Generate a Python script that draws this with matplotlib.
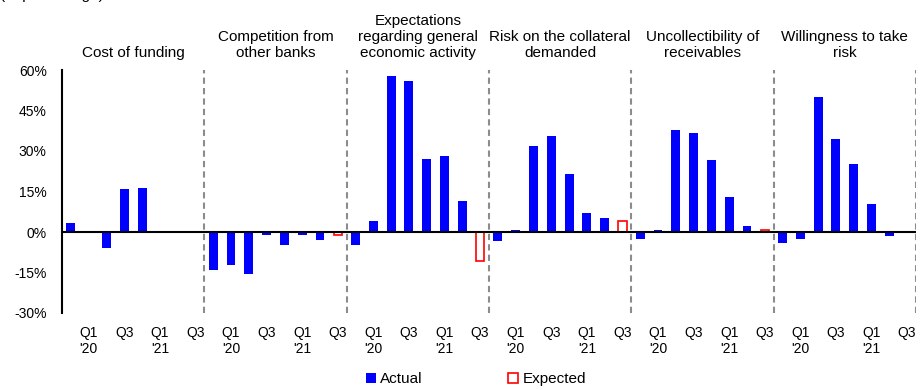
import matplotlib
matplotlib.use("Agg")
import matplotlib.pyplot as plt
import numpy as np
from matplotlib.patches import Patch
from matplotlib.transforms import blended_transform_factory

plt.rcParams["font.family"] = ["Liberation Sans", "DejaVu Sans"]
plt.rcParams["font.size"] = 10

nan = np.nan

# Factors behind credit standards (one panel each)
factors = [
    "Cost of funding",
    "Competition from\nother banks",
    "Expectations\nregarding general\neconomic activity",
    "Risk on the collateral\ndemanded",
    "Uncollectibility of\nreceivables",
    "Willingness to take\nrisk",
]

# Quarter slots per panel: Q4'19 .. Q2'21 actual, Q3'21 expected
quarter_ticks = ["", "Q1\n'20", "", "Q3", "", "Q1\n'21", "", "Q3"]

# Actual net percentages, Q4'19 .. Q2'21
actual_cost_of_funding = [3.3, nan, -5.9, 15.8, 16.4, nan, nan]
actual_competition = [-14.0, -12.3, -15.4, -1.0, -4.7, -1.0, -2.8]
actual_expectations = [-4.7, 4.0, 57.8, 56.0, 27.0, 28.0, 11.6]
actual_collateral = [-3.4, 0.9, 31.7, 35.4, 21.5, 7.2, 5.3]
actual_receivables = [-2.7, 0.9, 37.7, 36.6, 26.5, 12.8, 2.2]
actual_risk_taking = [-4.0, -2.7, 50.1, 34.6, 25.3, 10.3, -1.5]

# Expected net percentages, Q3'21
expected_q3_21 = [nan, -1.0, -10.8, 4.1, 0.9, nan]

actual_series = [
    actual_cost_of_funding,
    actual_competition,
    actual_expectations,
    actual_collateral,
    actual_receivables,
    actual_risk_taking,
]

W, H = 921, 390
fig = plt.figure(figsize=(W / 100, H / 100), dpi=100)
ax = fig.add_axes([62 / W, 1 - 313 / H, (916 - 62) / W, (313 - 70) / H])

slots = len(quarter_ticks)
bar_w = 0.5
blue = "#0000FF"
red = "#FF0000"

tick_pos, tick_lab = [], []
for g, (name, vals) in enumerate(zip(factors, actual_series)):
    base = g * slots
    x = base + np.arange(len(vals))
    ax.bar(x, vals, width=bar_w, color=blue, edgecolor="none", zorder=2)
    ax.bar(base + slots - 1, expected_q3_21[g], width=bar_w * 0.95,
           facecolor="white", edgecolor=red, linewidth=1.2, zorder=2)
    for i, lab in enumerate(quarter_ticks):
        if lab:
            tick_pos.append(base + i)
            tick_lab.append(lab)
    # panel separators
    ax.axvline(base + slots - 0.5, color="#8c8c8c", linewidth=1.5,
               linestyle=(0, (3, 2)), zorder=1)

trans = blended_transform_factory(ax.transData, ax.transAxes)
for g, name in enumerate(factors):
    ax.annotate(name, xy=(g * slots + (slots - 1) / 2, 1.0), xycoords=trans,
                xytext=(0, 7.5), textcoords="offset points",
                ha="center", va="bottom", fontsize=11, linespacing=1.15)

ax.axhline(0, color="black", linewidth=1.5, zorder=3)

ax.set_xlim(-0.5, len(factors) * slots - 0.5)
ax.set_ylim(-30, 60)
yt = list(range(-30, 61, 15))
ax.set_yticks(yt)
ax.set_yticklabels([f"{v}%" for v in yt])
ax.set_xticks(tick_pos)
ax.set_xticklabels(tick_lab, linespacing=1.25)
ax.tick_params(axis="y", length=0, pad=11, labelsize=10)
ax.tick_params(axis="x", length=0, pad=9, labelsize=10)

for s in ("top", "right", "bottom"):
    ax.spines[s].set_visible(False)
ax.spines["left"].set_linewidth(1.5)
ax.spines["left"].set_color("black")

fig.text(0.0, 1 + 0.5 / H, "(In percentage)", ha="left", va="baseline", fontsize=11)

handles = [
    Patch(facecolor=blue, edgecolor="none"),
    Patch(facecolor="white", edgecolor=red, linewidth=1.2),
]
fig.legend(handles, ["Actual", "Expected"], loc="center",
           bbox_to_anchor=(476 / W, 1 - 379 / H), ncol=2, frameon=False,
           handlelength=0.65, handleheight=0.65, handletextpad=0.3,
           columnspacing=5.6, fontsize=11)

fig.savefig("out.png", dpi=100)
